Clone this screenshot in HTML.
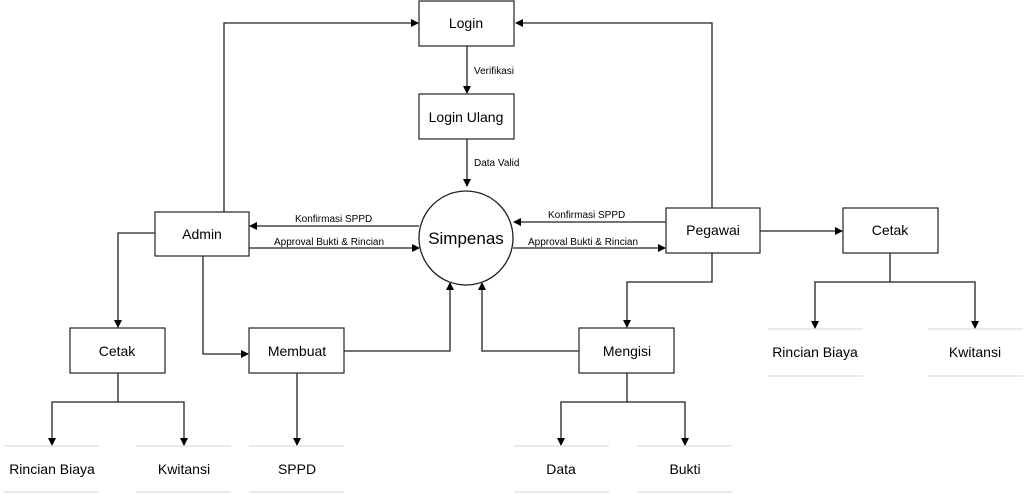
<!DOCTYPE html>
<html><head><meta charset="utf-8"><style>
html,body{margin:0;padding:0;background:#fff;width:1024px;height:494px;overflow:hidden}
svg{display:block}
text{font-family:"Liberation Sans",sans-serif;fill:#000}
.b{fill:#fff;stroke:#333;stroke-width:1.3}
.l{fill:none;stroke:#222;stroke-width:1.3}
.g{stroke:#d4d4d4;stroke-width:1}
.t{font-size:14px;text-anchor:middle}
.s{font-size:10px}
</style></head><body>
<svg width="1024" height="494" viewBox="0 0 1024 494">
<defs><marker id="a" markerWidth="8" markerHeight="8" refX="7" refY="4" orient="auto" markerUnits="userSpaceOnUse"><path d="M0,0 L8,4 L0,8 z" fill="#000"/></marker></defs>

<polyline class="l" points="224,212 224,23 418,23" marker-end="url(#a)"/>
<polyline class="l" points="712,208 712,23 516,23" marker-end="url(#a)"/>
<line class="l" x1="467" y1="46" x2="467" y2="93" marker-end="url(#a)"/>
<line class="l" x1="467" y1="139" x2="467" y2="186" marker-end="url(#a)"/>
<line class="l" x1="419" y1="226" x2="250" y2="226" marker-end="url(#a)"/>
<line class="l" x1="249" y1="248" x2="419" y2="248" marker-end="url(#a)"/>
<line class="l" x1="666" y1="222" x2="514" y2="222" marker-end="url(#a)"/>
<line class="l" x1="513" y1="248" x2="665" y2="248" marker-end="url(#a)"/>
<line class="l" x1="760" y1="231" x2="842" y2="231" marker-end="url(#a)"/>
<polyline class="l" points="890,253 890,282 815,282 815,328" marker-end="url(#a)"/>
<polyline class="l" points="890,282 975,282 975,328" marker-end="url(#a)"/>
<polyline class="l" points="712,253 712,282 627,282 627,327" marker-end="url(#a)"/>
<polyline class="l" points="579,351 482,351 482,283" marker-end="url(#a)"/>
<polyline class="l" points="344,351 450,351 450,283" marker-end="url(#a)"/>
<polyline class="l" points="627,373 627,402 561,402 561,445" marker-end="url(#a)"/>
<polyline class="l" points="627,402 685,402 685,445" marker-end="url(#a)"/>
<line class="l" x1="297" y1="373" x2="297" y2="445" marker-end="url(#a)"/>
<polyline class="l" points="155,233 118,233 118,327" marker-end="url(#a)"/>
<polyline class="l" points="203,256 203,354 248,354" marker-end="url(#a)"/>
<polyline class="l" points="118,373 118,402 52,402 52,445" marker-end="url(#a)"/>
<polyline class="l" points="118,402 184,402 184,445" marker-end="url(#a)"/>

<rect class="b" x="419" y="1" width="95" height="45"/>
<rect class="b" x="419" y="94" width="95" height="45"/>
<rect class="b" x="155" y="212" width="94" height="44"/>
<rect class="b" x="666" y="208" width="94" height="45"/>
<rect class="b" x="843" y="208" width="95" height="45"/>
<rect class="b" x="70" y="328" width="95" height="45"/>
<rect class="b" x="249" y="328" width="95" height="45"/>
<rect class="b" x="579" y="328" width="95" height="45"/>
<circle cx="466" cy="238" r="47" fill="#fff" stroke="#222" stroke-width="1.3"/>

<g class="g">
<line x1="4" y1="446" x2="99" y2="446"/><line x1="4" y1="492" x2="99" y2="492"/>
<line x1="136" y1="446" x2="231" y2="446"/><line x1="136" y1="492" x2="231" y2="492"/>
<line x1="249" y1="446" x2="344" y2="446"/><line x1="249" y1="492" x2="344" y2="492"/>
<line x1="514" y1="446" x2="609" y2="446"/><line x1="514" y1="492" x2="609" y2="492"/>
<line x1="637" y1="446" x2="732" y2="446"/><line x1="637" y1="492" x2="732" y2="492"/>
<line x1="768" y1="329" x2="863" y2="329"/><line x1="768" y1="376" x2="863" y2="376"/>
<line x1="928" y1="329" x2="1023" y2="329"/><line x1="928" y1="376" x2="1023" y2="376"/>
</g>

<text class="t" x="466" y="28">Login</text>
<text class="t" x="466" y="122">Login Ulang</text>
<text class="t" x="202" y="239">Admin</text>
<text class="t" x="713" y="235">Pegawai</text>
<text class="t" x="890" y="235">Cetak</text>
<text class="t" x="117" y="356">Cetak</text>
<text class="t" x="297" y="356">Membuat</text>
<text class="t" x="627" y="356">Mengisi</text>
<text x="466" y="244" style="font-size:17px;text-anchor:middle">Simpenas</text>
<text class="t" x="52" y="474">Rincian Biaya</text>
<text class="t" x="184" y="474">Kwitansi</text>
<text class="t" x="297" y="474">SPPD</text>
<text class="t" x="561" y="474">Data</text>
<text class="t" x="685" y="474">Bukti</text>
<text class="t" x="815" y="357">Rincian Biaya</text>
<text class="t" x="975" y="357">Kwitansi</text>
<text class="s" x="474" y="74">Verifikasi</text>
<text class="s" x="474" y="166">Data Valid</text>
<text class="s" x="295" y="222">Konfirmasi SPPD</text>
<text class="s" x="274" y="245">Approval Bukti &amp; Rincian</text>
<text class="s" x="548" y="218">Konfirmasi SPPD</text>
<text class="s" x="528" y="245">Approval Bukti &amp; Rincian</text>
</svg>
</body></html>
